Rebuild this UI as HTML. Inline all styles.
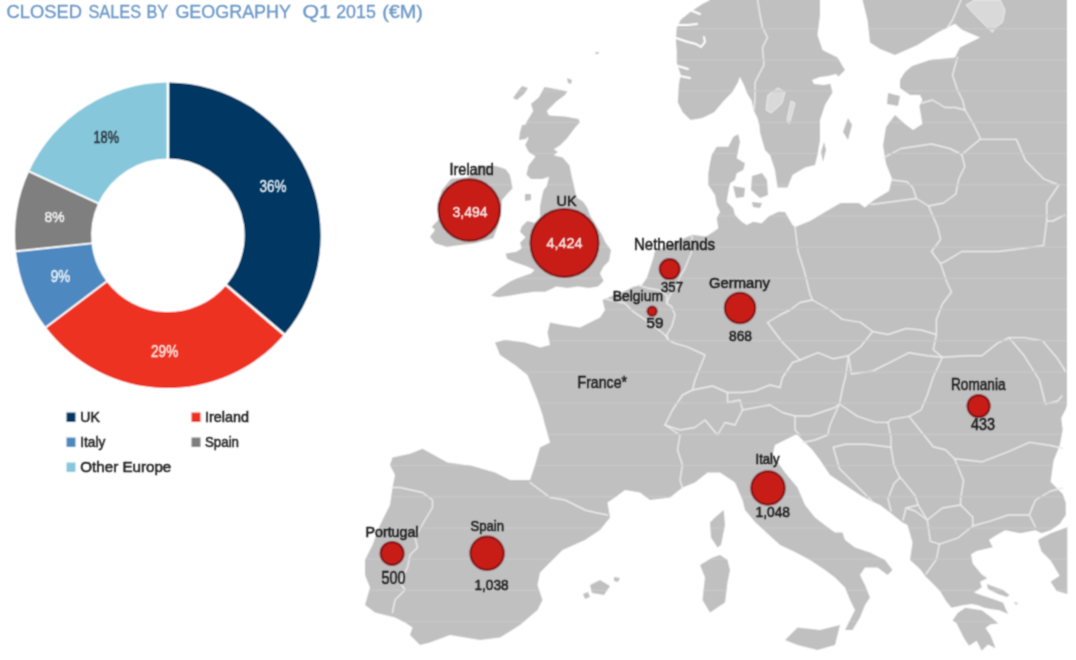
<!DOCTYPE html>
<html><head><meta charset="utf-8"><style>
html,body{margin:0;padding:0;background:#fff;width:1076px;height:660px;overflow:hidden}
svg{display:block}
text{font-family:"Liberation Sans", sans-serif}
</style></head><body>
<svg width="1076" height="660" viewBox="0 0 1076 660">
<defs><filter id="bl" x="0" y="0" width="1076" height="660" filterUnits="userSpaceOnUse"><feConvolveMatrix order="3" kernelMatrix="1 2 1 2 4 2 1 2 1" divisor="16" edgeMode="duplicate"/></filter>
<filter id="blt" x="0" y="0" width="1076" height="660" filterUnits="userSpaceOnUse"><feConvolveMatrix order="3" kernelMatrix="1 3 1 3 9 3 1 3 1" divisor="25" edgeMode="duplicate"/></filter></defs>
<g filter="url(#bl)"><rect width="1076" height="660" fill="#fff"/>
<path d="M167.90,82.50 A152.8,152.8 0 0 1 284.09,334.54 L226.30,285.18 A76.8,76.8 0 0 0 167.90,158.50 Z" fill="#003764"/>
<path d="M284.09,334.54 A152.8,152.8 0 0 1 45.87,327.26 L106.56,281.52 A76.8,76.8 0 0 0 226.30,285.18 Z" fill="#ee3124"/>
<path d="M45.87,327.26 A152.8,152.8 0 0 1 15.94,251.27 L91.52,243.33 A76.8,76.8 0 0 0 106.56,281.52 Z" fill="#4d89c0"/>
<path d="M15.94,251.27 A152.8,152.8 0 0 1 29.08,171.45 L98.13,203.21 A76.8,76.8 0 0 0 91.52,243.33 Z" fill="#7f7f7f"/>
<path d="M29.08,171.45 A152.8,152.8 0 0 1 167.90,82.50 L167.90,158.50 A76.8,76.8 0 0 0 98.13,203.21 Z" fill="#86c7dc"/>
<line x1="167.90" y1="80.50" x2="167.90" y2="160.50" stroke="#fff" stroke-width="2.6"/>
<line x1="285.61" y1="335.83" x2="224.78" y2="283.88" stroke="#fff" stroke-width="2.6"/>
<line x1="44.27" y1="328.46" x2="108.16" y2="280.32" stroke="#fff" stroke-width="1.8"/>
<line x1="13.95" y1="251.48" x2="93.51" y2="243.12" stroke="#fff" stroke-width="1.8"/>
<line x1="27.26" y1="170.61" x2="99.94" y2="204.04" stroke="#fff" stroke-width="1.9"/>
<rect x="66.5" y="412.5" width="9" height="9.5" fill="#003764"/>
<rect x="191.5" y="412.5" width="9" height="9.5" fill="#ee3124"/>
<rect x="66.5" y="437.5" width="9" height="9.5" fill="#4d89c0"/>
<rect x="191.5" y="437.5" width="9" height="9.5" fill="#7f7f7f"/>
<rect x="66.5" y="462.5" width="9" height="9.5" fill="#86c7dc"/>
<defs><clipPath id="land">
<polygon points="710.3,0 702.4,3.9 690.6,11.8 680.7,19.7 676.8,27.6 675.8,39.4 676.8,51.2 676.8,63 680.7,74.8 678.8,84.6 677.8,102.4 682.7,112.2 690.6,120 702.4,118.1 714.2,112.2 724,100.4 732,92.5 737.8,82.7 739.8,76.8 743.7,84.6 747.7,94.5 751.6,100.4 753.6,110.2 757.5,118.1 759.5,126 760,132.5 765,150 770,155 775,170 777.5,187.5 787.5,187.5 792.5,175 805,167.5 815,165 817.5,155 820,140 820,120 825,105 832.5,92.5 830,82.5 837.5,77.5 845,70 837.5,57.5 822.5,50 817.5,35 820,15 820,0"/>
<polygon points="862.5,0 1067,0 1067,405 1065.8,409 1061.2,418 1062.7,430 1059.7,445.5 1053.6,460.6 1050.6,481.8 1056.7,488 1062.7,494 1065.8,503 1065.8,515 1059.7,524 1050.6,530.3 1041.5,533.3 1035.5,530.3 1020.3,533.3 1005.2,530.3 995,536 989,540 992.7,547.3 976.4,551 971,554.5 972.7,563.6 981.8,574.5 987.3,578.2 980,581.8 981.8,587.3 974,592.6 981.7,595.2 993,599 1003.2,602.8 1005.7,609 1008.3,614.1 999.4,610.3 990.6,609 984.2,607.8 978,605.3 971.6,604 962.8,605.3 951.4,607.8 946,601 942.5,595.2 940,591 931,581.8 925.5,576.4 920,569 910,560 912.5,542.5 907.5,525 902.5,522.5 890,512.5 880,505 869,500 860,495 845,485 830,475 820,460 812.5,450 807.5,445 797.5,435 795,435 775,445 772.5,455 785,472.5 797.5,487.5 805,505 815,517.5 828,527.5 835,532.5 842.5,532.5 845,540 855,547.5 870,552.5 885,560 892.5,570 887.5,575 877.5,567.5 865,567.5 860,575 865,585 870,597.5 865,605 860,617.5 852.5,630 845,630 850,620 855,610 850,600 845,587.5 835,577.5 825,570 810,560 795,552 780,545 768,534 755,522 745,510 742.5,500 735,482.5 720,472.5 707.5,472.5 695,482.5 682.5,487.5 670,497.5 650,500 640,492.5 625,490 615,497.5 607.5,502.5 610,517.5 600,530 585,540 562.5,550 555,557.5 540,572.5 537.5,585 542.5,600 537.5,610 520,625 500,637.5 480,640 450,635 430,642.5 420,645 410,635 412.5,627.5 405,622.5 395,617.5 375,612.5 365,605 370,587.5 365,575 365,560 372.5,545 380,525 387.5,510 390,505 392.5,487.5 395,475 390,465 392.5,457.5 410,453.75 422.5,448.75 447.5,462.5 472.5,466 495,472.5 510,480 530,480 535,465 540,447.5 550,442.5 545,425 542.5,415 537.5,400 532.5,387.5 527.5,375 515,365 500,355 495,342.5 505,340 525,342.5 540,347.5 550,345 547.5,332.5 550,322.5 562.5,325 580,327.5 600,317.5 605,310 602.5,300 610,296.7 625,291 633.3,286.7 641.7,285 646.7,278.3 650,268.3 653,259 655,251 662,248 670,245 680,240 692.4,234.8 706,236.4 713.6,231.8 718.3,228.3 716.7,218.3 720,211.7 716.7,205 715,195 708.3,185 708.3,173.3 710,163.3 711.7,155 716.7,146.7 728.3,146.7 733.3,136.7 738.3,134.2 740,141.7 738.3,150 736.7,158.3 745,163.3 743.3,170 736.7,173.3 735,180 730,183.3 728.3,191.7 726.7,201.7 733.3,208.3 735,215 741.7,221.7 746.7,225 753.3,221.7 761.7,223.3 768.3,216.7 778.3,211.7 785,212 792.5,225 795,227 810,221 825,212 840.6,203 858.8,203 864.8,207.6 874,200 889,191 892,178.8 886,163.6 883,145.5 886,127 895,115 905,124 913,130 922.4,124 919.4,106 922.4,100 920,95 910,95 900,88 900,80 905,72 912,66 930,60 955,57.5 960,47.5 980,37.5 962.5,30 955,23.75 937.5,32.5 917.5,45 895,55 880,49 870,42.5 867.5,20"/>
<polygon points="544.5,87 556,89 567.3,91.6 565,95 556,101.8 546.8,111 549,115.5 565,116.6 578.6,118.9 579.8,122.3 574,129 567.3,138 560.5,145 553.6,149.5 558,151.8 553.6,155.2 562.7,157.5 569.5,165.5 571.8,176.8 574,186 576.4,197.3 583.2,201.8 587.7,208.6 590,215.5 596,225 602,235 605.5,242.7 611,250 609,261 603.6,266.4 600,273.6 603.6,281 598,286.4 589,288 578,286.4 567.3,288 556.4,286.4 545.5,291.8 534.5,291.8 521.8,293.6 511,295.5 498,297.3 491,295.5 500,288 511,281 520,277.3 531,273.6 534.5,270 527.3,266.4 516.4,262.7 507.3,259 505.5,253.6 516.4,251.8 521.8,248.2 520,242.7 525.5,237.3 520,231.8 521.8,226.4 527.3,221 534.5,222.7 540,217.3 540,206.4 541.8,197.3 543.6,190 546.8,186 549,176.8 542.3,179 530.9,179 526.4,174.5 528.6,165.5 535.5,156.4 528.6,151.8 525.2,145 528.6,138 524,133.6 526.4,122.3 533.2,111 530.9,104 538.9,97.3"/>
<polygon points="479,165.5 495.8,166 505.5,169 509.7,174.5 511,180 512.5,188.5 508.3,192.7 502,200 501,215 498.3,225 493.3,238.3 475,243.3 446.7,246.7 435,243.3 430,236.7 435,230 431.7,226.7 438.3,220 437,205 442,190 451,178.7 468,177.3"/>
<polygon points="522,86 528,88 524,94 517,100 513,98 518,91"/>
<polygon points="522,125 530,124 532,131 526,139 519,140 520,132"/>
<polygon points="525,194 531,194 531,200 525,201"/>
<polygon points="567,78 572,80 571,84 568,83"/>
<polygon points="723.75,510 725,525 721,545 717.5,547.5 711,537.5 710,522.5 715,517.5"/>
<polygon points="720,555 727.5,560 730,570 727.5,582.5 725,602.5 710,612.5 702.5,600 705,577.5 700,565 712.5,557.5"/>
<polygon points="785,640 797.5,627.5 820,630 840,625 835,645 817.5,650 797.5,645"/>
<polygon points="590,585 600,580 610,586 604,595 592,593"/>
<polygon points="614,577 620,578 618,582 614,581"/>
<polygon points="583,594 588,592 590,597 585,599"/>
<polygon points="957.7,612.9 965.3,607.8 981.7,610.3 990.6,616.7 998.2,623.6 990.6,624.2 985.5,628 990.6,635.6 995.6,648.3 988,644.5 981.7,650.8 976.7,640.7 969,645.7 964,638.2 956.4,623 952.6,620.5"/>
<polygon points="986.8,584 995,587 1003,590 1009.5,595 1007,597 998,594 988,589"/>
<polygon points="596,52 599,52 598,54 595,54"/>
<polygon points="1014,602 1018,603 1016,605"/>
<polygon points="1038.5,539.4 1050.6,533.3 1067.3,527.3 1067.3,594 1056.7,591 1050.6,581.8 1059.7,575.8 1050.6,560.6 1041.5,551.5 1038.5,542.4"/>
<polygon points="848,118 852,125 848,140 843,132"/>
<polygon points="824,142 826,150 823,162 821,152"/>
<polygon points="752,176 762,173 767,180 768,195 760,198 751,190"/>
<polygon points="733,186 745,188 744,197 736,198"/>
<polygon points="752,202 762,203 760,208 753,207"/>
<polygon points="888,93 900,96 898,106 887,104"/>
</clipPath></defs>
<g fill="#c0c0c0">
<polygon points="710.3,0 702.4,3.9 690.6,11.8 680.7,19.7 676.8,27.6 675.8,39.4 676.8,51.2 676.8,63 680.7,74.8 678.8,84.6 677.8,102.4 682.7,112.2 690.6,120 702.4,118.1 714.2,112.2 724,100.4 732,92.5 737.8,82.7 739.8,76.8 743.7,84.6 747.7,94.5 751.6,100.4 753.6,110.2 757.5,118.1 759.5,126 760,132.5 765,150 770,155 775,170 777.5,187.5 787.5,187.5 792.5,175 805,167.5 815,165 817.5,155 820,140 820,120 825,105 832.5,92.5 830,82.5 837.5,77.5 845,70 837.5,57.5 822.5,50 817.5,35 820,15 820,0"/>
<polygon points="862.5,0 1067,0 1067,405 1065.8,409 1061.2,418 1062.7,430 1059.7,445.5 1053.6,460.6 1050.6,481.8 1056.7,488 1062.7,494 1065.8,503 1065.8,515 1059.7,524 1050.6,530.3 1041.5,533.3 1035.5,530.3 1020.3,533.3 1005.2,530.3 995,536 989,540 992.7,547.3 976.4,551 971,554.5 972.7,563.6 981.8,574.5 987.3,578.2 980,581.8 981.8,587.3 974,592.6 981.7,595.2 993,599 1003.2,602.8 1005.7,609 1008.3,614.1 999.4,610.3 990.6,609 984.2,607.8 978,605.3 971.6,604 962.8,605.3 951.4,607.8 946,601 942.5,595.2 940,591 931,581.8 925.5,576.4 920,569 910,560 912.5,542.5 907.5,525 902.5,522.5 890,512.5 880,505 869,500 860,495 845,485 830,475 820,460 812.5,450 807.5,445 797.5,435 795,435 775,445 772.5,455 785,472.5 797.5,487.5 805,505 815,517.5 828,527.5 835,532.5 842.5,532.5 845,540 855,547.5 870,552.5 885,560 892.5,570 887.5,575 877.5,567.5 865,567.5 860,575 865,585 870,597.5 865,605 860,617.5 852.5,630 845,630 850,620 855,610 850,600 845,587.5 835,577.5 825,570 810,560 795,552 780,545 768,534 755,522 745,510 742.5,500 735,482.5 720,472.5 707.5,472.5 695,482.5 682.5,487.5 670,497.5 650,500 640,492.5 625,490 615,497.5 607.5,502.5 610,517.5 600,530 585,540 562.5,550 555,557.5 540,572.5 537.5,585 542.5,600 537.5,610 520,625 500,637.5 480,640 450,635 430,642.5 420,645 410,635 412.5,627.5 405,622.5 395,617.5 375,612.5 365,605 370,587.5 365,575 365,560 372.5,545 380,525 387.5,510 390,505 392.5,487.5 395,475 390,465 392.5,457.5 410,453.75 422.5,448.75 447.5,462.5 472.5,466 495,472.5 510,480 530,480 535,465 540,447.5 550,442.5 545,425 542.5,415 537.5,400 532.5,387.5 527.5,375 515,365 500,355 495,342.5 505,340 525,342.5 540,347.5 550,345 547.5,332.5 550,322.5 562.5,325 580,327.5 600,317.5 605,310 602.5,300 610,296.7 625,291 633.3,286.7 641.7,285 646.7,278.3 650,268.3 653,259 655,251 662,248 670,245 680,240 692.4,234.8 706,236.4 713.6,231.8 718.3,228.3 716.7,218.3 720,211.7 716.7,205 715,195 708.3,185 708.3,173.3 710,163.3 711.7,155 716.7,146.7 728.3,146.7 733.3,136.7 738.3,134.2 740,141.7 738.3,150 736.7,158.3 745,163.3 743.3,170 736.7,173.3 735,180 730,183.3 728.3,191.7 726.7,201.7 733.3,208.3 735,215 741.7,221.7 746.7,225 753.3,221.7 761.7,223.3 768.3,216.7 778.3,211.7 785,212 792.5,225 795,227 810,221 825,212 840.6,203 858.8,203 864.8,207.6 874,200 889,191 892,178.8 886,163.6 883,145.5 886,127 895,115 905,124 913,130 922.4,124 919.4,106 922.4,100 920,95 910,95 900,88 900,80 905,72 912,66 930,60 955,57.5 960,47.5 980,37.5 962.5,30 955,23.75 937.5,32.5 917.5,45 895,55 880,49 870,42.5 867.5,20"/>
<polygon points="544.5,87 556,89 567.3,91.6 565,95 556,101.8 546.8,111 549,115.5 565,116.6 578.6,118.9 579.8,122.3 574,129 567.3,138 560.5,145 553.6,149.5 558,151.8 553.6,155.2 562.7,157.5 569.5,165.5 571.8,176.8 574,186 576.4,197.3 583.2,201.8 587.7,208.6 590,215.5 596,225 602,235 605.5,242.7 611,250 609,261 603.6,266.4 600,273.6 603.6,281 598,286.4 589,288 578,286.4 567.3,288 556.4,286.4 545.5,291.8 534.5,291.8 521.8,293.6 511,295.5 498,297.3 491,295.5 500,288 511,281 520,277.3 531,273.6 534.5,270 527.3,266.4 516.4,262.7 507.3,259 505.5,253.6 516.4,251.8 521.8,248.2 520,242.7 525.5,237.3 520,231.8 521.8,226.4 527.3,221 534.5,222.7 540,217.3 540,206.4 541.8,197.3 543.6,190 546.8,186 549,176.8 542.3,179 530.9,179 526.4,174.5 528.6,165.5 535.5,156.4 528.6,151.8 525.2,145 528.6,138 524,133.6 526.4,122.3 533.2,111 530.9,104 538.9,97.3"/>
<polygon points="479,165.5 495.8,166 505.5,169 509.7,174.5 511,180 512.5,188.5 508.3,192.7 502,200 501,215 498.3,225 493.3,238.3 475,243.3 446.7,246.7 435,243.3 430,236.7 435,230 431.7,226.7 438.3,220 437,205 442,190 451,178.7 468,177.3"/>
<polygon points="522,86 528,88 524,94 517,100 513,98 518,91"/>
<polygon points="522,125 530,124 532,131 526,139 519,140 520,132"/>
<polygon points="525,194 531,194 531,200 525,201"/>
<polygon points="567,78 572,80 571,84 568,83"/>
<polygon points="723.75,510 725,525 721,545 717.5,547.5 711,537.5 710,522.5 715,517.5"/>
<polygon points="720,555 727.5,560 730,570 727.5,582.5 725,602.5 710,612.5 702.5,600 705,577.5 700,565 712.5,557.5"/>
<polygon points="785,640 797.5,627.5 820,630 840,625 835,645 817.5,650 797.5,645"/>
<polygon points="590,585 600,580 610,586 604,595 592,593"/>
<polygon points="614,577 620,578 618,582 614,581"/>
<polygon points="583,594 588,592 590,597 585,599"/>
<polygon points="957.7,612.9 965.3,607.8 981.7,610.3 990.6,616.7 998.2,623.6 990.6,624.2 985.5,628 990.6,635.6 995.6,648.3 988,644.5 981.7,650.8 976.7,640.7 969,645.7 964,638.2 956.4,623 952.6,620.5"/>
<polygon points="986.8,584 995,587 1003,590 1009.5,595 1007,597 998,594 988,589"/>
<polygon points="596,52 599,52 598,54 595,54"/>
<polygon points="1014,602 1018,603 1016,605"/>
<polygon points="1038.5,539.4 1050.6,533.3 1067.3,527.3 1067.3,594 1056.7,591 1050.6,581.8 1059.7,575.8 1050.6,560.6 1041.5,551.5 1038.5,542.4"/>
<polygon points="848,118 852,125 848,140 843,132"/>
<polygon points="824,142 826,150 823,162 821,152"/>
<polygon points="752,176 762,173 767,180 768,195 760,198 751,190"/>
<polygon points="733,186 745,188 744,197 736,198"/>
<polygon points="752,202 762,203 760,208 753,207"/>
<polygon points="888,93 900,96 898,106 887,104"/>
</g>
<polygon points="812,80 820,77 828,76 836,74 841,79 834,83 824,85 814,84" fill="#fff"/>
<g fill="none" stroke="#fff" stroke-width="2" stroke-linecap="round" stroke-linejoin="round">
<polyline points="677,25 688,25 697,24"/>
<polyline points="676,38 688,42 696,44 701,47 705,42 704,37"/>
<polyline points="678,66 688,69"/>
<polyline points="680,76 690,78"/>
<polyline points="690,10 700,14"/>
</g>
<polygon points="966,5 975,0 1000,0 1005,10 1002.5,22.5 995,27.5 992.5,32.5 985,25 972.5,12.5" fill="#d9d9d9" stroke="#ececec" stroke-width="1"/>
<polygon points="768,95 778,88 785,92 782,103 777,108 771,113 766,110 767,102" fill="#d9d9d9" stroke="#ececec" stroke-width="1"/>
<polygon points="791,101 795,103 791,118 789,124 787,120" fill="#d9d9d9" stroke="#ececec" stroke-width="1"/>
<g fill="none" stroke="#ececec" stroke-width="1.4" stroke-linejoin="round" stroke-linecap="round">
<polyline points="530,482.5 540,490 550,497.5 565,500 580,507.5 585,510 595,512.5 607.5,515"/>
<polyline points="392,487.5 400,487.5 422.5,492.5 432.5,500 432.5,507.5 425,520 415,537.5 417.5,547.5 410,555 407.5,567.5 400,582.5 405,590 395,600 392.5,612.5"/>
<polyline points="692,236 691.7,251.7 688.3,260 685,268.3 680,276.7 676.7,286.7 670,295 666.7,303.3"/>
<polyline points="638.3,285 648.3,288.3 658.3,290 666.7,295 666.7,303.3"/>
<polyline points="606,299 625,303.3 633.3,311.7 643.3,318.3 656.7,328.3 665,335 668.3,340"/>
<polyline points="666.7,303.3 671.7,306.7 675,315 671.7,326.7 666.7,335 668.3,340"/>
<polyline points="668.3,340 675,343.3 686.7,346.7 705,355 700,367.5 695,380 692.5,390"/>
<polyline points="692.5,390 712.5,386 727.5,392.5 742.5,392.5 755,391 770,385 780,387.5"/>
<polyline points="780,387.5 782.5,377.5 792.5,362.5 800,360"/>
<polyline points="800,360 795,355 782.5,342.5 775,332.5 767.5,322.5 780,315 790,310 800,302.5 812.5,300"/>
<polyline points="795,227 798,251.5 804,269.7 810,294 812.5,300"/>
<polyline points="812.5,300 830,310 842.4,319.4 860.6,322.4 872.7,331.5"/>
<polyline points="872.7,331.5 860.6,346.7 848.5,355.8"/>
<polyline points="800,360 818,352.7 833.3,358.8 848.5,355.8"/>
<polyline points="872.7,331.5 888,334.5 906,328.5 921,330 936.4,334.5"/>
<polyline points="940.6,263.6 946.7,281.8 951.5,292 942.4,304 936.4,319.4 936.4,334.5"/>
<polyline points="936.4,334.5 933.3,349.7 942.4,357.3"/>
<polyline points="848.5,355.8 851.5,374 872.7,371 891,361.8 909,352.7 927.3,355.8 942.4,357.3"/>
<polyline points="848.5,355.8 845.5,377 842.4,389 839.4,404"/>
<polyline points="692.5,390 682.5,395 672.5,410 665,425"/>
<polyline points="665,425 680,430 695,427.5 705,420 717.5,435 725,422.5 735,425 742.5,410 740,400 727.5,402.5 727.5,392.5"/>
<polyline points="665,425 680,435 677.5,450 682.5,465 680,480 682.5,488"/>
<polyline points="742.5,410 770,405 782.5,412.5 795,416 810,416 835,407.5 839.4,404"/>
<polyline points="795,416 795,430 800,435"/>
<polyline points="803,442.5 815,440 827.5,435 830,425 839.4,404"/>
<polyline points="839.4,404 857.6,416.4 875.8,422.4 888,422.4 891,419.4 909,416.4"/>
<polyline points="942.4,357.3 933.3,377 927.3,395 921,410 909,416.4"/>
<polyline points="888,422.4 891,437.6 891,447.3"/>
<polyline points="833.3,447.3 845.5,444.2 866.7,444.2 891,447.3"/>
<polyline points="833.3,447.3 839.4,468.5 854.5,483.6 872.7,501.8"/>
<polyline points="891,447.3 894,465.5 900,477.6 894,483.6 888,498.8 891,511"/>
<polyline points="900,477.6 903,480.6 915.2,495.8 918.2,505 906,508 903,520"/>
<polyline points="906,508 915.2,511 927.3,520"/>
<polyline points="918.2,505 927.3,520 942.4,508 960.6,505"/>
<polyline points="909,416.4 921,431.5 933.3,446.7 945.5,449.7 954.5,458.8"/>
<polyline points="954.5,458.8 963.6,480.6 960.6,498.8 960.6,505"/>
<polyline points="960.6,505 972.7,517 972.7,526"/>
<polyline points="972.7,526 957.6,538.2 939.4,544.2 930.3,541.2"/>
<polyline points="927.3,520 930.3,541.2"/>
<polyline points="939.4,544.2 936.4,559.4 926,574"/>
<polyline points="954.5,458.8 981.8,461.8 1006,452.7 1029.4,442.4 1050.6,445.5 1062.7,448.5"/>
<polyline points="972.7,526 990,521.2 1008.2,515 1029.4,515 1032,508"/>
<polyline points="1029.4,515 1035.5,527.3"/>
<polyline points="1032,508 1035.5,500 1050.6,491 1062.7,488"/>
<polyline points="942.4,357.3 966.7,355.8 981.8,355.8 997,343.6 1009,337.6 1024.2,337.6 1042.4,340.6 1057.6,358.8 1066,372"/>
<polyline points="1009,337.6 1024.2,355.8 1039.4,380 1045.5,404 1057.6,401 1062,396"/>
<polyline points="940.6,263.6 946.7,260.6 961.8,251.5 998.2,251.5 1022.4,248.5 1043.6,245.5 1046.7,221 1052.7,221 1064.8,215"/>
<polyline points="1016.4,139.4 1025.5,160.6 1043.6,178.8 1058.8,185 1046.7,203 1046.7,221"/>
<polyline points="928.5,206 937.6,227 940.6,239.4 931.5,251.5 940.6,263.6"/>
<polyline points="961.8,154.5 964.8,166.7 958.8,178.8 955.8,194 943.6,203 928.5,206 916.4,198.5"/>
<polyline points="871,204.5 916.4,198.5"/>
<polyline points="892,180 907,181.8 913,188 916.4,198.5"/>
<polyline points="884,157.6 901,148.5 931.5,144 949.7,148.5 961.8,154.5"/>
<polyline points="961.8,154.5 980,139.4 1004.2,139.4 1016.4,139.4"/>
<polyline points="922,103 932.5,100 945,107.5 955,107.5 965,110"/>
<polyline points="965,110 972.5,122.5 980,137.5 980,139.4"/>
<polyline points="957.5,57.5 952.5,75 957.5,90 962.5,100 965,110"/>
<polyline points="961,0 952.5,20 947.5,27.5"/>
<polyline points="757.5,0 760,15 762.5,27.5 767.5,37.5 762.5,47.5 764,65 760,72.5 755,82.5 755,97.5 754,110"/>
</g>
<g clip-path="url(#land)" stroke="#c9c9c9" stroke-width="1.2">
<line x1="360" y1="28.7" x2="1070" y2="28.7"/>
<line x1="360" y1="59.9" x2="1070" y2="59.9"/>
<line x1="360" y1="91.1" x2="1070" y2="91.1"/>
<line x1="360" y1="122.3" x2="1070" y2="122.3"/>
<line x1="360" y1="153.5" x2="1070" y2="153.5"/>
<line x1="360" y1="184.7" x2="1070" y2="184.7"/>
<line x1="360" y1="215.9" x2="1070" y2="215.9"/>
<line x1="360" y1="247.1" x2="1070" y2="247.1"/>
<line x1="360" y1="278.3" x2="1070" y2="278.3"/>
<line x1="360" y1="309.5" x2="1070" y2="309.5"/>
<line x1="360" y1="340.7" x2="1070" y2="340.7"/>
<line x1="360" y1="371.9" x2="1070" y2="371.9"/>
<line x1="360" y1="403.1" x2="1070" y2="403.1"/>
<line x1="360" y1="434.3" x2="1070" y2="434.3"/>
<line x1="360" y1="465.5" x2="1070" y2="465.5"/>
<line x1="360" y1="496.7" x2="1070" y2="496.7"/>
<line x1="360" y1="527.9" x2="1070" y2="527.9"/>
<line x1="360" y1="559.1" x2="1070" y2="559.1"/>
<line x1="360" y1="590.3" x2="1070" y2="590.3"/>
<line x1="360" y1="621.5" x2="1070" y2="621.5"/>
<line x1="360" y1="652.7" x2="1070" y2="652.7"/>
</g>
<circle cx="469.3" cy="210" r="30.7" fill="#c81a16" stroke="#7d1212" stroke-width="2"/>
<circle cx="564.5" cy="243" r="34.0" fill="#c81a16" stroke="#7d1212" stroke-width="2"/>
<circle cx="669.7" cy="269.1" r="10.0" fill="#c81a16" stroke="#7d1212" stroke-width="2"/>
<circle cx="652.1" cy="311.2" r="4.6000000000000005" fill="#c81a16" stroke="#7d1212" stroke-width="2"/>
<circle cx="740" cy="308" r="15.2" fill="#c81a16" stroke="#7d1212" stroke-width="2"/>
<circle cx="392.1" cy="553.4" r="11.5" fill="#c81a16" stroke="#7d1212" stroke-width="2"/>
<circle cx="487.1" cy="553.2" r="16.7" fill="#c81a16" stroke="#7d1212" stroke-width="2"/>
<circle cx="768" cy="488" r="16.7" fill="#c81a16" stroke="#7d1212" stroke-width="2"/>
<circle cx="978.6" cy="406.1" r="11.1" fill="#c81a16" stroke="#7d1212" stroke-width="2"/>
</g>
<g filter="url(#blt)">
<text x="6.6000000000000005" y="18" font-size="18.5" fill="#6c98c8" stroke="#6c98c8" stroke-width="0.35" text-anchor="start" font-weight="normal" textLength="75.4" lengthAdjust="spacingAndGlyphs">CLOSED</text>
<text x="88.4" y="18" font-size="18.5" fill="#6c98c8" stroke="#6c98c8" stroke-width="0.35" text-anchor="start" font-weight="normal" textLength="52.8" lengthAdjust="spacingAndGlyphs">SALES</text>
<text x="146.4" y="18" font-size="18.5" fill="#6c98c8" stroke="#6c98c8" stroke-width="0.35" text-anchor="start" font-weight="normal" textLength="21.8" lengthAdjust="spacingAndGlyphs">BY</text>
<text x="175.4" y="18" font-size="18.5" fill="#6c98c8" stroke="#6c98c8" stroke-width="0.35" text-anchor="start" font-weight="normal" textLength="115.6" lengthAdjust="spacingAndGlyphs">GEOGRAPHY</text>
<text x="302.4" y="18" font-size="18.5" fill="#6c98c8" stroke="#6c98c8" stroke-width="0.35" text-anchor="start" font-weight="normal" textLength="28.5" lengthAdjust="spacingAndGlyphs">Q1</text>
<text x="336.2" y="18" font-size="18.5" fill="#6c98c8" stroke="#6c98c8" stroke-width="0.35" text-anchor="start" font-weight="normal" textLength="39.6" lengthAdjust="spacingAndGlyphs">2015</text>
<text x="382.2" y="18" font-size="18.5" fill="#6c98c8" stroke="#6c98c8" stroke-width="0.35" text-anchor="start" font-weight="normal" textLength="40.7" lengthAdjust="spacingAndGlyphs">(€M)</text>
<text x="259.5" y="192" font-size="16.78" fill="#dfe6ee" stroke="#dfe6ee" stroke-width="0.55" text-anchor="start" font-weight="normal" textLength="27.0" lengthAdjust="spacingAndGlyphs">36%</text>
<text x="93.5" y="143.3" font-size="15.75" fill="#2d3a40" stroke="#2d3a40" stroke-width="0.55" text-anchor="start" font-weight="normal" textLength="25.5" lengthAdjust="spacingAndGlyphs">18%</text>
<text x="44.5" y="221.7" font-size="15.46" fill="#eeeeee" stroke="#eeeeee" stroke-width="0.55" text-anchor="start" font-weight="normal" textLength="20.0" lengthAdjust="spacingAndGlyphs">8%</text>
<text x="50.8" y="282.3" font-size="16.34" fill="#e6eef6" stroke="#e6eef6" stroke-width="0.55" text-anchor="start" font-weight="normal" textLength="19.5" lengthAdjust="spacingAndGlyphs">9%</text>
<text x="151" y="356.5" font-size="16.49" fill="#fbe3e0" stroke="#fbe3e0" stroke-width="0.55" text-anchor="start" font-weight="normal" textLength="27.3" lengthAdjust="spacingAndGlyphs">29%</text>
<text x="80.3" y="422" font-size="15" fill="#262626" stroke="#262626" stroke-width="0.55" text-anchor="start" font-weight="normal" textLength="19.5" lengthAdjust="spacingAndGlyphs">UK</text>
<text x="205" y="422" font-size="15" fill="#262626" stroke="#262626" stroke-width="0.55" text-anchor="start" font-weight="normal" textLength="44" lengthAdjust="spacingAndGlyphs">Ireland</text>
<text x="80.3" y="447" font-size="15" fill="#262626" stroke="#262626" stroke-width="0.55" text-anchor="start" font-weight="normal" textLength="25" lengthAdjust="spacingAndGlyphs">Italy</text>
<text x="205" y="447" font-size="15" fill="#262626" stroke="#262626" stroke-width="0.55" text-anchor="start" font-weight="normal" textLength="34" lengthAdjust="spacingAndGlyphs">Spain</text>
<text x="80.3" y="472" font-size="15" fill="#262626" stroke="#262626" stroke-width="0.55" text-anchor="start" font-weight="normal" textLength="91" lengthAdjust="spacingAndGlyphs">Other Europe</text>
<text x="449.5" y="174.5" font-size="16.19" fill="#1e1e1e" stroke="#1e1e1e" stroke-width="0.55" text-anchor="start" font-weight="normal" textLength="44.25" lengthAdjust="spacingAndGlyphs">Ireland</text>
<text x="452.5" y="216.5" font-size="14.72" fill="#f3e3e1" stroke="#f3e3e1" stroke-width="0.55" text-anchor="start" font-weight="normal" textLength="35.0" lengthAdjust="spacingAndGlyphs">3,494</text>
<text x="556.5" y="206" font-size="15.46" fill="#1e1e1e" stroke="#1e1e1e" stroke-width="0.55" text-anchor="start" font-weight="normal" textLength="20.0" lengthAdjust="spacingAndGlyphs">UK</text>
<text x="546.5" y="248" font-size="14.72" fill="#f3e3e1" stroke="#f3e3e1" stroke-width="0.55" text-anchor="start" font-weight="normal" textLength="36.0" lengthAdjust="spacingAndGlyphs">4,424</text>
<text x="634" y="249.5" font-size="16.19" fill="#1e1e1e" stroke="#1e1e1e" stroke-width="0.55" text-anchor="start" font-weight="normal" textLength="81" lengthAdjust="spacingAndGlyphs">Netherlands</text>
<text x="661" y="291.5" font-size="14.72" fill="#1e1e1e" stroke="#1e1e1e" stroke-width="0.55" text-anchor="start" font-weight="normal" textLength="22" lengthAdjust="spacingAndGlyphs">357</text>
<text x="612.8" y="301.3" font-size="15.46" fill="#1e1e1e" stroke="#1e1e1e" stroke-width="0.55" text-anchor="start" font-weight="normal" textLength="50.2" lengthAdjust="spacingAndGlyphs">Belgium</text>
<text x="646.5" y="328" font-size="14.72" fill="#1e1e1e" stroke="#1e1e1e" stroke-width="0.55" text-anchor="start" font-weight="normal" textLength="17.0" lengthAdjust="spacingAndGlyphs">59</text>
<text x="709" y="288" font-size="15.46" fill="#1e1e1e" stroke="#1e1e1e" stroke-width="0.55" text-anchor="start" font-weight="normal" textLength="61" lengthAdjust="spacingAndGlyphs">Germany</text>
<text x="729" y="340.5" font-size="14.72" fill="#1e1e1e" stroke="#1e1e1e" stroke-width="0.55" text-anchor="start" font-weight="normal" textLength="23" lengthAdjust="spacingAndGlyphs">868</text>
<text x="577.5" y="387.5" font-size="16.19" fill="#1e1e1e" stroke="#1e1e1e" stroke-width="0.55" text-anchor="start" font-weight="normal" textLength="49.5" lengthAdjust="spacingAndGlyphs">France*</text>
<text x="365.5" y="536.5" font-size="14.72" fill="#1e1e1e" stroke="#1e1e1e" stroke-width="0.55" text-anchor="start" font-weight="normal" textLength="53.0" lengthAdjust="spacingAndGlyphs">Portugal</text>
<text x="381.5" y="583.5" font-size="17.67" fill="#1e1e1e" stroke="#1e1e1e" stroke-width="0.55" text-anchor="start" font-weight="normal" textLength="24.0" lengthAdjust="spacingAndGlyphs">500</text>
<text x="470.5" y="531" font-size="15.46" fill="#1e1e1e" stroke="#1e1e1e" stroke-width="0.55" text-anchor="start" font-weight="normal" textLength="33.5" lengthAdjust="spacingAndGlyphs">Spain</text>
<text x="474.5" y="589.5" font-size="14.72" fill="#1e1e1e" stroke="#1e1e1e" stroke-width="0.55" text-anchor="start" font-weight="normal" textLength="34.0" lengthAdjust="spacingAndGlyphs">1,038</text>
<text x="755.5" y="464" font-size="14.72" fill="#1e1e1e" stroke="#1e1e1e" stroke-width="0.55" text-anchor="start" font-weight="normal" textLength="24.0" lengthAdjust="spacingAndGlyphs">Italy</text>
<text x="755.5" y="516.5" font-size="14.72" fill="#1e1e1e" stroke="#1e1e1e" stroke-width="0.55" text-anchor="start" font-weight="normal" textLength="34.5" lengthAdjust="spacingAndGlyphs">1,048</text>
<text x="951" y="389.5" font-size="16.19" fill="#1e1e1e" stroke="#1e1e1e" stroke-width="0.55" text-anchor="start" font-weight="normal" textLength="54.5" lengthAdjust="spacingAndGlyphs">Romania</text>
<text x="971" y="430" font-size="16.19" fill="#1e1e1e" stroke="#1e1e1e" stroke-width="0.55" text-anchor="start" font-weight="normal" textLength="24" lengthAdjust="spacingAndGlyphs">433</text>
</g></svg></body></html>
